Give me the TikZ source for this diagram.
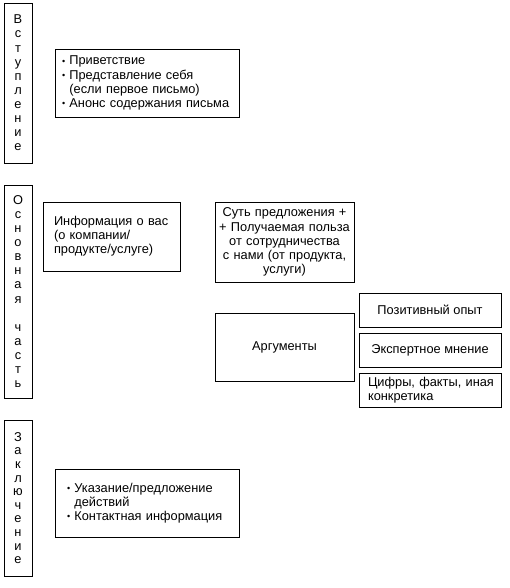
\documentclass[tikz,border=0pt]{standalone}
\usepackage{fontspec}
\setmainfont{Liberation Sans}
\newcommand{\bul}{{\small\raisebox{0.15ex}{•}}~}
\newcommand{\oneline}[1]{\mbox{#1}}
\begin{document}
\begin{tikzpicture}[x=1pt,y=-1pt,
  every node/.style={font=\fontsize{12.8}{14.1}\selectfont},
  box/.style={draw, line width=0.9pt, inner sep=0pt, outer sep=0pt},
  vbox/.style={box, minimum width=28pt, align=center},
]
\useasboundingbox (0,0) rectangle (510,588);
% vertical section labels
\node[vbox, minimum height=160pt] (s1) at (18,83) {В\\с\\т\\у\\п\\л\\е\\н\\и\\е};
\node[vbox, minimum height=213pt] (s2) at (18,291.5) {О\\с\\н\\о\\в\\н\\а\\я\\[14pt]ч\\а\\с\\т\\ь};
\node[vbox, minimum height=156pt, font=\fontsize{12.8}{13.6}\selectfont] (s3) at (18,498) {З\\а\\к\\л\\ю\\ч\\е\\н\\и\\е};
% intro
\node[box, minimum width=184pt, minimum height=68pt, inner xsep=7pt, text width=170pt, align=left] (intro) at (147,83)
 {\oneline{\bul Приветствие}\\ \oneline{\bul Представление себя}\\ \oneline{\phantom{\bul}(если первое письмо)}\\ \oneline{\bul Анонс содержания письма}};
% main part
\node[box, minimum width=137pt, minimum height=69pt, inner xsep=11pt, text width=115pt, align=left] (info) at (111.5,236.5)
 {\oneline{Информация о вас}\\\oneline{(о компании/}\\\oneline{продукте/услуге)}};
\node[box, minimum width=139pt, minimum height=80pt, text width=137pt, align=center] (offer) at (284.5,242)
 {\oneline{Суть предложения +}\\\oneline{+ Получаемая польза}\\\oneline{от сотрудничества}\\\oneline{с нами (от продукта,}\\\oneline{услуги)}};
\node[box, minimum width=139pt, minimum height=68pt, align=center] (args) at (284.5,347) {Аргументы};
\node[box, minimum width=142pt, minimum height=34pt, align=center] (pos) at (430,310) {Позитивный опыт};
\node[box, minimum width=142pt, minimum height=34pt, align=center] (exp) at (430,350) {Экспертное мнение};
\node[box, minimum width=142pt, minimum height=34pt, inner xsep=9pt, text width=124pt, align=left] (facts) at (430,390)
 {\oneline{Цифры, факты, иная}\\\oneline{конкретика}};
% conclusion
\node[box, minimum width=184pt, minimum height=68pt, inner xsep=12pt, text width=160pt, align=left] (concl) at (147,503)
 {\oneline{\bul Указание/предложение}\\ \oneline{\phantom{\bul}действий}\\ \oneline{\bul Контактная информация}};
\end{tikzpicture}
\end{document}
